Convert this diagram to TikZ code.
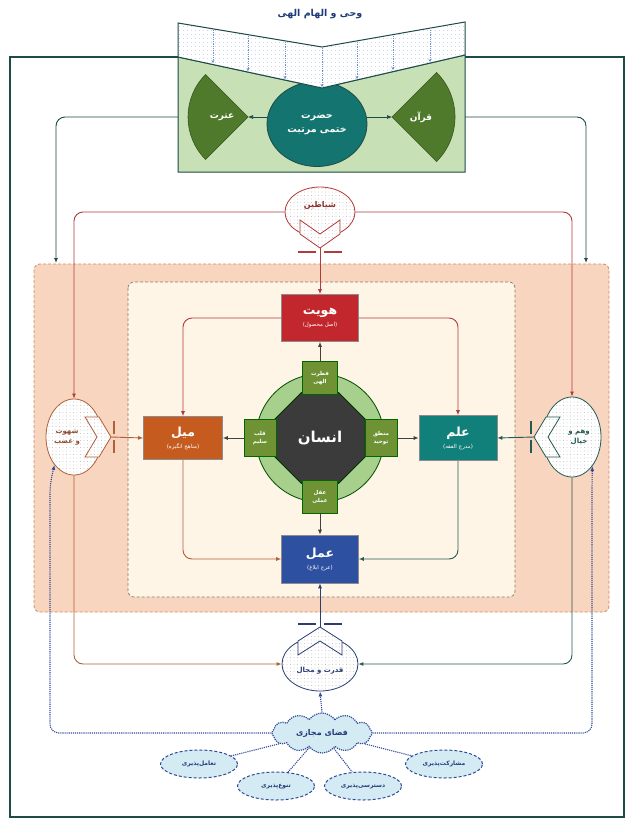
\documentclass[tikz,border=0pt]{standalone}
\usepackage{fontspec}
\newfontfamily\fafont[Script=Arabic]{DejaVu Sans}
\TeXXeTstate=1
\newcommand{\fatxt}[1]{{\fafont\beginR #1\endR}}
\usetikzlibrary{shapes.geometric,shapes.symbols,arrows.meta,patterns.meta}

\definecolor{frameteal}{HTML}{1E4A48}
\definecolor{boxgreen}{HTML}{C7E0B5}
\definecolor{sectgreen}{HTML}{4F7A2B}
\definecolor{hazratteal}{HTML}{137470}
\definecolor{bandblue}{HTML}{6F8FCF}
\definecolor{titleblue}{HTML}{1F3A78}
\definecolor{peach}{HTML}{F8D5BE}
\definecolor{peachline}{HTML}{D08A66}
\definecolor{cream}{HTML}{FEF5E6}
\definecolor{creamline}{HTML}{8C7B6B}
\definecolor{hovred}{HTML}{C2272D}
\definecolor{meylorange}{HTML}{C65B1F}
\definecolor{elmteal}{HTML}{11807A}
\definecolor{amalblue}{HTML}{2E50A0}
\definecolor{ringgreen}{HTML}{A8D08D}
\definecolor{octgray}{HTML}{3B3B3B}
\definecolor{smallgreen}{HTML}{6E9234}
\definecolor{redline}{HTML}{B23A3A}
\definecolor{brownline}{HTML}{B0603A}
\definecolor{tealline}{HTML}{245A52}
\definecolor{navyline}{HTML}{2B3E73}
\definecolor{dotblue}{HTML}{2E4A9A}
\definecolor{cloudblue}{HTML}{D5EBF3}

\begin{document}
\begin{tikzpicture}[x=1pt,y=-1pt]
\tikzstyle{mybox} = [rectangle, draw=black!45, line width=0.6pt, minimum width=78, minimum height=46, text=white, align=center, inner sep=1pt] % main boxes
\tikzstyle{mysmall} = [rectangle, fill=smallgreen, draw=black!60!green, line width=0.8pt, minimum width=35, minimum height=33, text=white, align=center, inner sep=0pt, font=\fontsize{5.5}{8}\selectfont\bfseries] % boxes round the octagon
\tikzstyle{mybody} = [ellipse, line width=0.8pt, preaction={fill=white}, pattern={Dots[distance=3.5pt,radius=0.4pt]}, pattern color=black!35, inner sep=0pt] % valve bodies
\tikzstyle{mychev} = [line width=0.8pt, line join=miter, preaction={fill=white}, pattern={Dots[distance=3.5pt,radius=0.4pt]}, pattern color=black!35] % notches
\tikzstyle{myarrow} = [line width=0.9pt, rounded corners=9pt, -{Latex[length=5pt,width=4pt]}] % connectors
\tikzstyle{mydots} = [line width=1.1pt, densely dotted, draw=dotblue] % dotted links
\tikzstyle{myoval} = [ellipse, fill=cloudblue, draw=dotblue, line width=1pt, densely dashed, minimum width=77, minimum height=28, inner sep=0pt, font=\fontsize{6}{7}\selectfont\bfseries, text=titleblue] % small ovals

\useasboundingbox (0,0) rectangle (630,822);
% outer frame and the two back panels
\draw[frameteal, line width=1.2pt] (10,57) rectangle (624,817);
\draw[peachline, fill=peach, densely dashed, line width=0.8pt, rounded corners=6pt] (34,264) rectangle (609,612);
\draw[creamline, fill=cream, densely dashed, line width=0.7pt, rounded corners=6pt] (128,282) rectangle (515,597);

% top: revelation band and green box
\node[font=\fontsize{9.5}{11}\selectfont\bfseries, text=titleblue] (vahy) at (320,14) {\fatxt{وحی و الهام الهی}};
\draw[frameteal, line width=1pt, fill=boxgreen] (178,57) -- (322,88) -- (465,55) -- (465,172) -- (178,172) -- cycle;
\node[ellipse, fill=hazratteal, draw=frameteal, line width=0.8pt, minimum width=100, minimum height=85, text=white, align=center, font=\fontsize{9.5}{14}\selectfont\bfseries] (hazrat) at (317,124) {\fatxt{حضرت}\\\fatxt{ختمی مرتبت}};
\draw[frameteal, line width=1pt, line join=miter, preaction={fill=white}, pattern={Dots[distance=4pt,radius=0.45pt]}, pattern color=bandblue!70] (178,23) -- (322,47) -- (465,22) -- (465,55) -- (322,88) -- (178,57) -- cycle;
\draw[bandblue, densely dotted, line width=0.8pt, -{Stealth[length=3pt,width=3pt]}] (213,30) -- (213,63);
\draw[bandblue, densely dotted, line width=0.8pt, -{Stealth[length=3pt,width=3pt]}] (248,36) -- (248,71);
\draw[bandblue, densely dotted, line width=0.8pt, -{Stealth[length=3pt,width=3pt]}] (285,42) -- (285,79);
\draw[bandblue, densely dotted, line width=0.8pt, -{Stealth[length=3pt,width=3pt]}] (322,48) -- (322,87);
\draw[bandblue, densely dotted, line width=0.8pt, -{Stealth[length=3pt,width=3pt]}] (357,42) -- (357,79);
\draw[bandblue, densely dotted, line width=0.8pt, -{Stealth[length=3pt,width=3pt]}] (393,36) -- (393,70);
\draw[bandblue, densely dotted, line width=0.8pt, -{Stealth[length=3pt,width=3pt]}] (430,30) -- (430,62);
\draw[sectgreen!70!black, fill=sectgreen, line width=0.6pt] (248,117) -- ++(135:60) arc[start angle=135, end angle=225, radius=60] -- cycle;
\draw[sectgreen!70!black, fill=sectgreen, line width=0.6pt] (392,117) -- ++(-45:63) arc[start angle=-45, end angle=45, radius=63] -- cycle;
\node[text=white, font=\fontsize{9}{10}\selectfont\bfseries] (etrat) at (222,117) {\fatxt{عترت}};
\node[text=white, font=\fontsize{9}{10}\selectfont\bfseries] (quran) at (421,117) {\fatxt{قرآن}};
\coordinate (etratp) at (248,117);
\coordinate (quranp) at (392,117);
\draw[myarrow, frameteal, line width=0.6pt] (hazrat.west |- etratp) -- (etratp);
\draw[myarrow, frameteal, line width=0.6pt] (hazrat.east |- quranp) -- (quranp);
\coordinate (boxw) at (178,117);
\coordinate (boxe) at (465,117);
\coordinate (peachl) at (56,263);
\coordinate (peachr) at (586,263);
\draw[myarrow, frameteal] (boxw) -| (peachl);
\draw[myarrow, frameteal] (boxe) -| (peachr);

% shayatin
\node[mybody, draw=redline, minimum width=70, minimum height=50] (shaytan) at (320,212) {};
\draw[mychev, draw=redline] (300,220) -- (320,234) -- (340,220) -- (340,234) -- (320,248) -- (300,234) -- cycle;
\node[text=redline!80!black, font=\fontsize{8}{9}\selectfont\bfseries] (shaytan-t) at (320,205) {\fatxt{شیاطین}};
\coordinate (shaytanp) at (320,248);
\draw[redline, line width=1.2pt] (298,252) -- (316,252) (324,252) -- (342,252);

% shahvat (left)
\node[mybody, draw=brownline, minimum width=56, minimum height=76] (shahvat) at (74,437) {};
\draw[mychev, draw=brownline] (85,417) -- (97,437) -- (85,457) -- (99,457) -- (111,437) -- (99,417) -- cycle;
\node[text=brownline!80!black, align=center, font=\fontsize{7}{10}\selectfont\bfseries] (shahvat-t) at (67,437) {\fatxt{شهوت}\\\fatxt{و غضب}};
\coordinate (shahvatp) at (111,437);
\draw[brownline, line width=1.2pt] (114,421) -- (114,434) (114,440) -- (114,453);

% vahm (right)
\node[mybody, draw=tealline, minimum width=58, minimum height=80] (vahm) at (572,437) {};
\draw[mychev, draw=tealline] (560,417) -- (548,437) -- (560,457) -- (546,457) -- (534,437) -- (546,417) -- cycle;
\node[text=tealline, align=center, font=\fontsize{7}{10}\selectfont\bfseries] (vahm-t) at (579,437) {\fatxt{وهم و}\\\fatxt{خیال}};
\coordinate (vahmp) at (534,437);
\draw[tealline, line width=1.2pt] (531,421) -- (531,434) (531,440) -- (531,453);

% qodrat (bottom)
\node[mybody, draw=navyline, minimum width=76, minimum height=54] (qodrat) at (320,664) {};
\draw[mychev, draw=navyline] (298,655) -- (320,641) -- (342,655) -- (342,641) -- (320,627) -- (298,641) -- cycle;
\node[text=navyline, font=\fontsize{7}{8}\selectfont\bfseries] (qodrat-t) at (320,671) {\fatxt{قدرت و مجال}};
\coordinate (qodratp) at (320,627);
\draw[navyline, line width=1.2pt] (298,624) -- (316,624) (324,624) -- (342,624);

% centre
\node[circle, fill=ringgreen, draw=black!70!green, line width=0.8pt, minimum size=128] (ring) at (320,438) {};
\node[regular polygon, regular polygon sides=8, fill=octgray, draw=black!80!green, line width=1pt, minimum size=98, text=white, font=\fontsize{15}{16}\selectfont\bfseries] (ensan) at (320,438) {\fatxt{انسان}};
\node[mysmall] (fetrat) at (320,378) {\fatxt{فطرت}\\\fatxt{الهی}};
\node[mysmall, minimum width=32, minimum height=37] (qalb) at (260,438) {\fatxt{قلب}\\\fatxt{سلیم}};
\node[mysmall, minimum width=32, minimum height=37] (manteq) at (381,438) {\fatxt{منطق}\\\fatxt{توحید}};
\node[mysmall] (aql) at (320,497) {\fatxt{عقل}\\\fatxt{عملی}};

% main boxes
\node[mybox, fill=hovred, minimum width=77, minimum height=47] (hoviyat) at (320,318) {{\fontsize{12.5}{15}\selectfont\bfseries\fatxt{هویت}}\\{\fontsize{5.5}{6}\selectfont\fatxt{(اصل محصول)}}};
\node[mybox, fill=meylorange, minimum width=79, minimum height=43] (meyl) at (183,438) {{\fontsize{12.5}{15}\selectfont\bfseries\fatxt{میل}}\\{\fontsize{5.5}{6}\selectfont\fatxt{(مناهج انگیزه)}}};
\node[mybox, fill=elmteal, minimum width=78, minimum height=45] (elm) at (458,438) {{\fontsize{12.5}{15}\selectfont\bfseries\fatxt{علم}}\\{\fontsize{5.5}{6}\selectfont\fatxt{(مدرج الفقه)}}};
\node[mybox, fill=amalblue, minimum width=77, minimum height=48] (amal) at (320,559) {{\fontsize{12.5}{15}\selectfont\bfseries\fatxt{عمل}}\\{\fontsize{5.5}{6}\selectfont\fatxt{(عرج ابلاغ)}}};

% links
\draw[myarrow, black!75] (fetrat.north) -- (hoviyat.south);
\draw[myarrow, black!75] (qalb.west) -- (meyl.east);
\draw[myarrow, black!75] (manteq.east) -- (elm.west);
\draw[myarrow, black!75] (aql.south) -- (amal.north);
\draw[myarrow, redline] (hoviyat.west) -| (meyl.north);
\draw[myarrow, redline] (hoviyat.east) -| (elm.north);
\draw[myarrow, brownline] (meyl.south) |- (amal.west);
\draw[myarrow, tealline] (elm.south) |- (amal.east);
\draw[myarrow, redline] (shaytan.west) -| (shahvat.north);
\draw[myarrow, redline] (shaytan.east) -| (vahm.north);
\draw[myarrow, redline] (shaytanp) -- (hoviyat.north);
\draw[myarrow, brownline] (shahvatp) -- (meyl.west);
\draw[myarrow, tealline] (vahmp) -- (elm.east);
\draw[myarrow, brownline] (shahvat.south) |- (qodrat.west);
\draw[myarrow, tealline] (vahm.south) |- (qodrat.east);
\draw[myarrow, navyline] (qodratp) -- (amal.south);

% virtual space
\node[cloud, cloud puffs=12, cloud puff arc=110, aspect=2.4, fill=cloudblue, draw=dotblue, densely dotted, line width=1.2pt, minimum width=100, minimum height=40, inner sep=0pt, text=titleblue, font=\fontsize{8}{9}\selectfont\bfseries] (fazay) at (322,733) {\fatxt{فضای مجازی}};
\node[myoval] (taamol) at (199,764) {\fatxt{تعامل^^^^200cپذیری}};
\node[myoval] (tanavo) at (276,786) {\fatxt{تنوع^^^^200cپذیری}};
\node[myoval] (dastresi) at (363,786) {\fatxt{دسترسی^^^^200cپذیری}};
\node[myoval] (mosharekat) at (444,764) {\fatxt{مشارکت^^^^200cپذیری}};
\draw[mydots] (fazay) -- (taamol);
\draw[mydots] (fazay) -- (tanavo);
\draw[mydots] (fazay) -- (dastresi);
\draw[mydots] (fazay) -- (mosharekat);
\coordinate (dotl) at (50,484);
\coordinate (dotr) at (592,484);
\draw[mydots, -{Latex[length=5pt,width=4pt]}] (fazay.north) -- (qodrat.south);
\draw[mydots, rounded corners=9pt, -{Latex[length=5pt,width=4pt]}] (fazay.west) -| (dotl) -- (shahvat.235);
\draw[mydots, rounded corners=9pt, -{Latex[length=5pt,width=4pt]}] (fazay.east) -| (dotr) -- (vahm.305);
\end{tikzpicture}
\end{document}
